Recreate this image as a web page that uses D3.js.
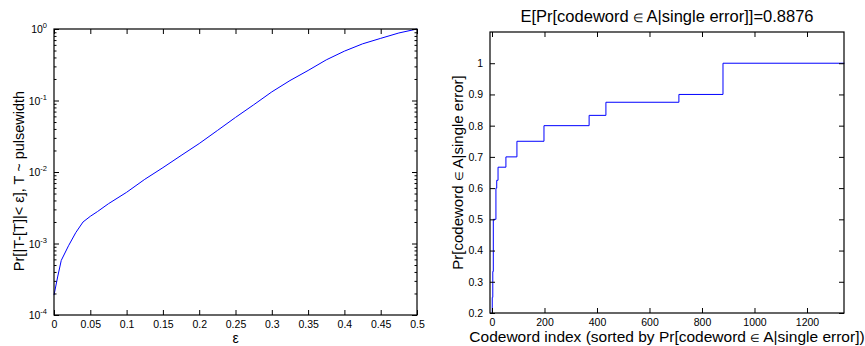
<!DOCTYPE html>
<html><head><meta charset="utf-8">
<script src="https://cdn.jsdelivr.net/npm/d3@7"></script>
<style>body{margin:0;background:#fff}svg{display:block}text{font-family:"Liberation Sans",Arial,sans-serif;fill:#000}</style>
</head><body>
<svg id="c" width="865" height="346"></svg>
<script>
// Left chart: Pr[|T-[T]| < eps] vs eps (log y)
const epsValues = [0,0.005,0.01,0.02,0.03,0.04,0.05,0.06,0.075,0.1,0.125,0.15,0.175,0.2,0.225,0.25,0.275,0.3,0.325,0.35,0.375,0.4,0.425,0.45,0.475,0.5];
const probValues = [1.9e-4,3.4e-4,5.8e-4,9.3e-4,1.42e-3,2.0e-3,2.4e-3,2.8e-3,3.6e-3,5.2e-3,7.9e-3,0.0115,0.017,0.025,0.038,0.058,0.087,0.132,0.19,0.263,0.37,0.49,0.62,0.74,0.88,1.0];
const leftXTicks = [0,0.05,0.1,0.15,0.2,0.25,0.3,0.35,0.4,0.45,0.5];
const leftYDecades = [-4,-3,-2,-1,0];

// Right chart: sorted Pr[codeword in A | single error] (step function)
const stepIndex = [0,1,3,5,15,18,23,53,95,198,370,434,712,880,1343];
const stepValue = [0.2,0.25,0.333,0.5,0.6,0.625,0.667,0.7,0.75,0.8,0.833,0.875,0.9,1.0,1.0];
const rightXTicks = [0,200,400,600,800,1000,1200];
const rightYTicks = [0.2,0.3,0.4,0.5,0.6,0.7,0.8,0.9,1];
const rightTitle = "E[Pr[codeword \u2208 A|single error]]=0.8876";

const svg = d3.select("#c");
const TL = 5, TLm = 2.5;
const TICKFS = 10.5;

function box(g, x0, y0, x1, y1){
  g.append("rect").attr("x",x0).attr("y",y0).attr("width",x1-x0).attr("height",y1-y0)
   .attr("fill","none").attr("stroke","#000").attr("stroke-width",1.2);
}

// ---------- Left ----------
{
  const L=54,R=417,T=29,B=315;
  const x = d3.scaleLinear().domain([0,0.5]).range([L,R]);
  const y = d3.scaleLog().domain([1e-4,1]).range([B,T]);
  const g = svg.append("g");
  const line = d3.line().x((d,i)=>x(epsValues[i])).y(d=>y(d));
  g.append("path").datum(probValues).attr("d",line).attr("fill","none").attr("stroke","#0000ff").attr("stroke-width",1);
  const xa = d3.axisBottom(x).tickValues(leftXTicks).tickSize(-TL).tickPadding(8).tickFormat(d=>d3.format("")(d));
  const gx = g.append("g").attr("transform",`translate(0,${B})`).call(xa);
  g.append("g").attr("transform",`translate(0,${T})`).call(d3.axisTop(x).tickValues(leftXTicks).tickSize(-TL).tickFormat(""));
  const minor=[]; leftYDecades.slice(0,-1).forEach(e=>{for(let k=2;k<10;k++) minor.push(k*Math.pow(10,e));});
  const majors = leftYDecades.map(e=>Math.pow(10,e));
  g.append("g").attr("transform",`translate(${L},0)`).call(d3.axisLeft(y).tickValues(majors).tickSize(-TL).tickFormat(""));
  g.append("g").attr("transform",`translate(${L},0)`).call(d3.axisLeft(y).tickValues(minor).tickSize(-TLm).tickFormat(""));
  g.append("g").attr("transform",`translate(${R},0)`).call(d3.axisRight(y).tickValues(majors).tickSize(-TL).tickFormat(""));
  g.append("g").attr("transform",`translate(${R},0)`).call(d3.axisRight(y).tickValues(minor).tickSize(-TLm).tickFormat(""));
  g.selectAll(".domain").remove();
  g.selectAll(".tick line").attr("stroke","#000").attr("stroke-width",1);
  gx.selectAll("text").attr("font-size",TICKFS).attr("font-family","Liberation Sans, Arial, sans-serif").attr("fill","#000").attr("dy","0.5em");
  leftYDecades.forEach(e=>{
    const t = g.append("text").attr("x",L-7).attr("y",y(Math.pow(10,e))+4).attr("text-anchor","end").attr("font-size",TICKFS);
    t.append("tspan").text("10");
    t.append("tspan").attr("font-size",7.5).attr("dy",-5).text(String(e));
  });
  box(g,L,T,R,B);
  g.append("text").attr("x",(L+R)/2).attr("y",343).attr("text-anchor","middle").attr("font-size",14).text("\u03b5");
  g.append("text").attr("transform",`translate(24,181) rotate(-90)`).attr("text-anchor","middle").attr("font-size",14.5)
   .text("Pr[|T-[T]|< \u03b5], T ~ pulsewidth");
}

// ---------- Right ----------
{
  const L=490,R=844,T=32,B=313;
  const x = d3.scaleLinear().domain([-7.6,1341]).range([L,R]);
  const y = d3.scaleLinear().domain([0.2,1.1]).range([B,T]);
  const g = svg.append("g");
  const line = d3.line().curve(d3.curveStepAfter).x((d,i)=>x(stepIndex[i])).y(d=>y(d));
  g.append("path").datum(stepValue).attr("d",line).attr("fill","none").attr("stroke","#0000ff").attr("stroke-width",1);
  const gx = g.append("g").attr("transform",`translate(0,${B})`).call(d3.axisBottom(x).tickValues(rightXTicks).tickSize(-TL).tickPadding(8).tickFormat(d3.format("d")));
  g.append("g").attr("transform",`translate(0,${T})`).call(d3.axisTop(x).tickValues(rightXTicks).tickSize(-TL).tickFormat(""));
  g.append("g").attr("transform",`translate(${L},0)`).call(d3.axisLeft(y).tickValues(rightYTicks).tickSize(-TL).tickPadding(7).tickFormat(d3.format("")));
  g.append("g").attr("transform",`translate(${R},0)`).call(d3.axisRight(y).tickValues(rightYTicks).tickSize(-TL).tickFormat(""));
  g.selectAll(".domain").remove();
  g.selectAll(".tick line").attr("stroke","#000").attr("stroke-width",1);
  g.selectAll(".tick text").attr("font-size",TICKFS).attr("font-family","Liberation Sans, Arial, sans-serif").attr("fill","#000");
  gx.selectAll("text").attr("dy","0.5em");
  box(g,L,T,R,B);
  const addLabel = (sel, str) => {
    const parts = str.split("\u2208");
    sel.append("tspan").text(parts[0]);
    sel.append("tspan").attr("font-size","0.7em").text("\u2208 ");
    sel.append("tspan").text(parts[1]);
  };
  addLabel(g.append("text").attr("x",(L+R)/2).attr("y",22).attr("text-anchor","middle").attr("font-size",16.5), rightTitle);
  addLabel(g.append("text").attr("x",(L+R)/2).attr("y",342).attr("text-anchor","middle").attr("font-size",15.5),
    "Codeword index (sorted by Pr[codeword \u2208A|single error])");
  addLabel(g.append("text").attr("transform",`translate(463,${(T+B)/2}) rotate(-90)`).attr("text-anchor","middle").attr("font-size",15),
    "Pr[codeword \u2208A|single error]");
}
</script>
</body></html>
